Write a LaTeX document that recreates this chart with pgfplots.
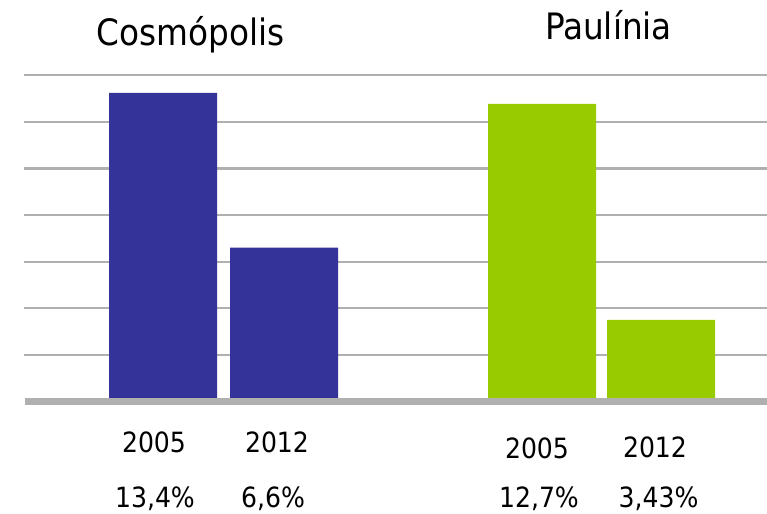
\documentclass[border=0pt]{standalone}
\usepackage{pgfplots}
\pgfplotsset{compat=1.18}
\usepackage{fontspec}
\setmainfont{DejaVu Sans Condensed}
\definecolor{cblue}{HTML}{333399}
\definecolor{cgreen}{HTML}{99CC00}
\definecolor{cgrid}{HTML}{B0B0B0}
\begin{document}
\begin{tikzpicture}
\useasboundingbox (0,0) rectangle (767bp,514bp);
\begin{axis}[
  at={(24bp,112.5bp)}, anchor=south west,
  scale only axis, width=743bp, height=326.2bp,
  xmin=24, xmax=767, ymin=0, ymax=14,
  ytick={2,4,...,14}, xtick=\empty, yticklabels={},
  ymajorgrids, grid style={cgrid, line width=2.2bp},
  axis line style={draw=none}, tick style={draw=none},
  ybar, bar width=108, bar shift=0pt,
  clip=false,
]
\addplot[fill=cblue, draw=none] coordinates {(163,13.25) (284,6.6)};
\addplot[fill=cgreen, draw=none] coordinates {(542,12.77) (661,3.5)};
\draw[cgrid, line width=7bp] (axis cs:25,0) -- (axis cs:767,0);
\end{axis}
\begin{scope}[every node/.style={inner sep=0pt, anchor=base}]
\node[font=\fontsize{36.5}{42}\selectfont] at (190.5bp,468bp) {Cosmópolis};
\node[font=\fontsize{36.5}{42}\selectfont] at (608.5bp,474bp) {Paulínia};
\node[font=\fontsize{28}{34}\selectfont] at (154bp,61bp) {2005};
\node[font=\fontsize{28}{34}\selectfont] at (277bp,61bp) {2012};
\node[font=\fontsize{28}{34}\selectfont] at (537bp,55bp) {2005};
\node[font=\fontsize{28}{34}\selectfont] at (655bp,56bp) {2012};
\node[font=\fontsize{28}{34}\selectfont] at (155bp,7bp) {13,4\%};
\node[font=\fontsize{28}{34}\selectfont] at (273bp,7bp) {6,6\%};
\node[font=\fontsize{28}{34}\selectfont] at (539bp,7bp) {12,7\%};
\node[font=\fontsize{28}{34}\selectfont] at (658.5bp,7bp) {3,43\%};
\end{scope}
\end{tikzpicture}
\end{document}
